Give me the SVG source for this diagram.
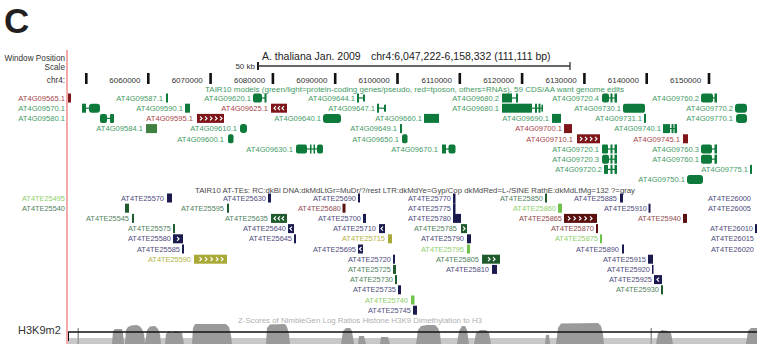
<svg xmlns="http://www.w3.org/2000/svg" width="757" height="344" viewBox="0 0 757 344">
<style>
text{font-family:"Liberation Sans",Arial,sans-serif}
.hd{font-size:8.2px;fill:#333;text-anchor:end}
.tk{font-size:8px;fill:#333;text-anchor:end}
.gl{font-size:7.6px;fill:#459b66;text-anchor:end}
.rl{font-size:7.6px;fill:#a7464b;text-anchor:end}
.g{fill:#0d7a3b}
.r{fill:#7e1518}
.p{fill:#3f7f40}
.ln{stroke:#0d7a3b;stroke-width:1.2}
.tl{font-size:7.4px;text-anchor:end}
.nvl{fill:#4e4c7c}.nv{fill:#1b1a4f}
.dgl{fill:#4f7f5c}.dg{fill:#1f5a2d}
.lgl{fill:#8fcf6c}.lg{fill:#6fc34b}
.oll{fill:#b4b446}.ol{fill:#a8a936}
.rdl{fill:#8f4c4c}.rd{fill:#5b1010}
.chev{fill:none;stroke:#fff;stroke-width:1.2}
.pk{fill:#9a9a9a}
</style>
<rect width="757" height="344" fill="#fff"/>
<text x="4" y="33" font-size="35" font-weight="bold" fill="#231f20">C</text>
<line x1="67" y1="50" x2="67" y2="344" stroke="#f6a9a9" stroke-width="2"/>
<g id="header">
<text class="hd" x="65" y="61">Window Position</text>
<text class="hd" x="65" y="69.5">Scale</text>
<text class="hd" x="65" y="83">chr4:</text>
<text x="262" y="60" font-size="10.5" fill="#222">A. thaliana Jan. 2009</text>
<text x="371" y="60" font-size="10.5" fill="#222">chr4:6,047,222-6,158,332 (111,111 bp)</text>
<text class="tk" x="255" y="69">50 kb</text>
<line x1="258" y1="66" x2="570" y2="66" stroke="#333" stroke-width="1.3"/>
<line x1="258" y1="62" x2="258" y2="70" stroke="#222" stroke-width="2"/>
<line x1="570" y1="62" x2="570" y2="70" stroke="#333" stroke-width="1.3"/>
</g>
<g id="ruler" fill="#111">
<rect x="85" y="73" width="2.6" height="11"/>
<rect x="147" y="73" width="2.6" height="11"/>
<rect x="209.3" y="73" width="2.6" height="11"/>
<rect x="271.6" y="73" width="2.6" height="11"/>
<rect x="333.9" y="73" width="2.6" height="11"/>
<rect x="396.2" y="73" width="2.6" height="11"/>
<rect x="458.5" y="73" width="2.6" height="11"/>
<rect x="520.8" y="73" width="2.6" height="11"/>
<rect x="583.1" y="73" width="2.6" height="11"/>
<rect x="645.4" y="73" width="2.6" height="11"/>
<rect x="707.7" y="73" width="2.6" height="11"/>
<text class="tk" x="140.5" y="82.5">6060000</text>
<text class="tk" x="202.8" y="82.5">6070000</text>
<text class="tk" x="265.1" y="82.5">6080000</text>
<text class="tk" x="327.4" y="82.5">6090000</text>
<text class="tk" x="389.7" y="82.5">6100000</text>
<text class="tk" x="452" y="82.5">6110000</text>
<text class="tk" x="514.3" y="82.5">6120000</text>
<text class="tk" x="576.6" y="82.5">6130000</text>
<text class="tk" x="638.9" y="82.5">6140000</text>
<text class="tk" x="701.2" y="82.5">6150000</text>
</g>
<text x="205" y="92" font-size="7.5" fill="#459b66" textLength="419" lengthAdjust="spacingAndGlyphs">TAIR10 models (green/light=protein-coding genes/pseudo, red=tposon, others=RNAs), 59 CDS/AA want genome edits</text>
<g id="genes">
<g id="AT4G09565.1"><text class="rl" x="65" y="100.7">AT4G09565.1</text><rect class="r" x="68" y="93.5" width="3" height="9"/></g>
<g id="AT4G09587.1"><text class="gl" x="163" y="100.7">AT4G09587.1</text><rect class="g" x="166" y="93.5" width="2" height="9"/></g>
<g id="AT4G09620.1"><text class="gl" x="251" y="100.7">AT4G09620.1</text><rect class="g" x="253" y="93.5" width="9" height="9" rx="2"/><line class="ln" x1="262" y1="98" x2="265.5" y2="98"/><rect class="g" x="264.5" y="93.5" width="2" height="9"/></g>
<g id="AT4G09644.1"><text class="gl" x="355" y="100.7">AT4G09644.1</text><rect class="g" x="357" y="93.5" width="2" height="9"/><line class="ln" x1="359" y1="98" x2="364" y2="98"/><rect class="g" x="363" y="94.5" width="2" height="7"/></g>
<g id="AT4G09680.2"><text class="gl" x="499" y="100.7">AT4G09680.2</text><rect class="g" x="502" y="93.5" width="10" height="9"/><line class="ln" x1="512" y1="98" x2="517" y2="98"/><rect class="g" x="516" y="93.5" width="2" height="9"/></g>
<g id="AT4G09720.4"><text class="gl" x="599" y="100.7">AT4G09720.4</text><rect class="g" x="602" y="93.5" width="7" height="9" rx="2"/><line class="ln" x1="609" y1="98" x2="617" y2="98"/><rect class="g" x="610.5" y="93.5" width="2" height="9"/><rect class="g" x="614.5" y="93.5" width="2.5" height="9"/></g>
<g id="AT4G09760.2"><text class="gl" x="699" y="100.7">AT4G09760.2</text><rect class="g" x="701" y="93.5" width="12" height="9" rx="2"/><line class="ln" x1="713" y1="98" x2="717" y2="98"/><rect class="g" x="714.5" y="93.5" width="2.5" height="9"/></g>

<g id="AT4G09570.1"><text class="gl" x="65" y="110.9">AT4G09570.1</text><rect class="g" x="82" y="103.7" width="4" height="9"/><line class="ln" x1="86" y1="108.2" x2="89" y2="108.2"/><rect class="g" x="89" y="103.7" width="11" height="9" rx="3"/></g>
<g id="AT4G09590.1"><text class="gl" x="183" y="110.9">AT4G09590.1</text><rect class="g" x="185" y="103.7" width="5" height="9"/></g>
<g id="AT4G09625.1"><text class="rl" x="268" y="110.9">AT4G09625.1</text><rect class="r" x="271" y="103.7" width="16" height="9"/><path class="chev" d="M276,106.2L274,108.2L276,110.2M280,106.2L278,108.2L280,110.2M284,106.2L282,108.2L284,110.2"/></g>
<g id="AT4G09647.1"><text class="gl" x="375" y="110.9">AT4G09647.1</text><rect class="g" x="377" y="103.7" width="2" height="9"/><line class="ln" x1="379" y1="108.2" x2="385" y2="108.2"/><rect class="g" x="384" y="104.7" width="2" height="7"/></g>
<g id="AT4G09680.1"><text class="gl" x="499" y="110.9">AT4G09680.1</text><rect class="g" x="502" y="103.7" width="30" height="9"/><line class="ln" x1="532" y1="108.2" x2="543" y2="108.2"/><rect class="g" x="535" y="103.7" width="2" height="9"/><rect class="g" x="538.5" y="103.7" width="2" height="9"/><rect class="g" x="541.5" y="104.7" width="1.5" height="7"/></g>
<g id="AT4G09730.1"><text class="gl" x="621" y="110.9">AT4G09730.1</text><rect class="g" x="623" y="103.7" width="22" height="9" rx="2"/></g>
<g id="AT4G09770.2"><text class="gl" x="733" y="110.9">AT4G09770.2</text><rect class="g" x="735" y="103.7" width="12" height="9" rx="3"/></g>

<g id="AT4G09580.1"><text class="gl" x="65" y="121.1">AT4G09580.1</text><rect class="g" x="100" y="113.9" width="7" height="9" rx="2"/><line class="ln" x1="107" y1="118.4" x2="111" y2="118.4"/><rect class="g" x="110" y="113.9" width="4" height="9" rx="1"/></g>
<g id="AT4G09595.1"><text class="rl" x="193" y="121.1">AT4G09595.1</text><rect class="r" x="197" y="113.9" width="27" height="9"/><path class="chev" d="M200,116.4L202,118.4L200,120.4M205,116.4L207,118.4L205,120.4M210,116.4L212,118.4L210,120.4M215,116.4L217,118.4L215,120.4M220,116.4L222,118.4L220,120.4"/></g>
<g id="AT4G09640.1"><text class="gl" x="321" y="121.1">AT4G09640.1</text><rect class="g" x="323" y="113.9" width="18" height="9" rx="3"/></g>
<g id="AT4G09660.1"><text class="gl" x="422" y="121.1">AT4G09660.1</text><rect class="g" x="424" y="113.9" width="15" height="9"/></g>
<g id="AT4G09690.1"><text class="gl" x="549" y="121.1">AT4G09690.1</text><rect class="g" x="552" y="113.9" width="9" height="9"/></g>
<g id="AT4G09731.1"><text class="gl" x="642" y="121.1">AT4G09731.1</text><rect class="g" x="644" y="113.9" width="2" height="9"/></g>
<g id="AT4G09770.1"><text class="gl" x="733" y="121.1">AT4G09770.1</text><rect class="g" x="736" y="113.9" width="11" height="9" rx="3"/></g>

<g id="AT4G09584.1"><text class="gl" x="143" y="131.3">AT4G09584.1</text><rect class="p" x="146" y="124.1" width="11" height="9"/></g>
<g id="AT4G09610.1"><text class="gl" x="237" y="131.3">AT4G09610.1</text><rect class="g" x="240" y="124.1" width="7" height="9" rx="3"/></g>
<g id="AT4G09649.1"><text class="gl" x="397" y="131.3">AT4G09649.1</text><rect class="g" x="400" y="124.1" width="2" height="9"/></g>
<g id="AT4G09700.1"><text class="rl" x="562" y="131.3">AT4G09700.1</text><rect class="r" x="564" y="124.1" width="8" height="9"/></g>
<g id="AT4G09740.1"><text class="gl" x="661" y="131.3">AT4G09740.1</text><rect class="g" x="663" y="124.1" width="7" height="9"/><line class="ln" x1="670" y1="128.6" x2="677" y2="128.6"/><rect class="g" x="671.5" y="124.1" width="2" height="9"/><rect class="g" x="674.5" y="124.1" width="2.5" height="9"/></g>

<g id="AT4G09600.1"><text class="gl" x="224" y="141.5">AT4G09600.1</text><rect class="g" x="228" y="134.3" width="5.5" height="9" rx="2"/></g>
<g id="AT4G09650.1"><text class="gl" x="399" y="141.5">AT4G09650.1</text><rect class="g" x="402" y="134.3" width="5.5" height="9" rx="2"/></g>
<g id="AT4G09710.1"><text class="rl" x="573" y="141.5">AT4G09710.1</text><rect class="r" x="577" y="134.3" width="23" height="9"/><path class="chev" d="M580,136.8L582,138.8L580,140.8M585,136.8L587,138.8L585,140.8M590,136.8L592,138.8L590,140.8M595,136.8L597,138.8L595,140.8"/></g>
<g id="AT4G09745.1"><text class="rl" x="680" y="141.5">AT4G09745.1</text><rect class="r" x="683" y="134.3" width="5" height="9"/></g>

<g id="AT4G09630.1"><text class="gl" x="293" y="151.7">AT4G09630.1</text><rect class="g" x="296" y="144.5" width="11" height="9" rx="2"/><line class="ln" x1="307" y1="149" x2="317" y2="149"/><rect class="g" x="310" y="144.5" width="1.5" height="9"/><rect class="g" x="313.5" y="144.5" width="1.5" height="9"/><rect class="g" x="317" y="144.5" width="6" height="9" rx="2"/></g>
<g id="AT4G09670.1"><text class="gl" x="438" y="151.7">AT4G09670.1</text><rect class="g" x="442" y="144.5" width="4" height="9"/><line class="ln" x1="446" y1="149" x2="449" y2="149"/><rect class="g" x="448.5" y="144.5" width="7" height="9" rx="2"/></g>
<g id="AT4G09720.1"><text class="gl" x="599" y="151.7">AT4G09720.1</text><rect class="g" x="602" y="144.5" width="6" height="9" rx="1"/><line class="ln" x1="608" y1="149" x2="617" y2="149"/><rect class="g" x="610.5" y="144.5" width="2" height="9"/><rect class="g" x="614.5" y="144.5" width="2.5" height="9"/></g>
<g id="AT4G09760.3"><text class="gl" x="699" y="151.7">AT4G09760.3</text><rect class="g" x="701" y="144.5" width="11" height="9" rx="2"/><line class="ln" x1="712" y1="149" x2="717" y2="149"/><rect class="g" x="714.5" y="144.5" width="2.5" height="9"/></g>

<g id="AT4G09720.3"><text class="gl" x="599" y="161.9">AT4G09720.3</text><rect class="g" x="602" y="154.7" width="7" height="9" rx="2"/><line class="ln" x1="609" y1="159.2" x2="617" y2="159.2"/><rect class="g" x="610.5" y="154.7" width="2" height="9"/><rect class="g" x="614.5" y="154.7" width="2.5" height="9"/></g>
<g id="AT4G09760.1"><text class="gl" x="699" y="161.9">AT4G09760.1</text><rect class="g" x="701" y="154.7" width="11" height="9" rx="2"/><line class="ln" x1="712" y1="159.2" x2="717" y2="159.2"/><rect class="g" x="714.5" y="154.7" width="2.5" height="9"/></g>

<g id="AT4G09720.2"><text class="gl" x="602" y="172.1">AT4G09720.2</text><rect class="g" x="604" y="164.9" width="4" height="9"/><line class="ln" x1="608" y1="169.4" x2="617" y2="169.4"/><rect class="g" x="610.5" y="164.9" width="2" height="9"/><rect class="g" x="614.5" y="164.9" width="2.5" height="9"/></g>
<g id="AT4G09775.1"><text class="gl" x="748" y="172.1">AT4G09775.1</text><rect class="g" x="750" y="164.9" width="2" height="9"/></g>

<g id="AT4G09750.1"><text class="gl" x="685" y="182.3">AT4G09750.1</text><rect class="g" x="687" y="175.1" width="16" height="9" rx="3"/></g>
</g>
<text x="195" y="193" font-size="7.8" fill="#4a4a4a" textLength="440" lengthAdjust="spacingAndGlyphs">TAIR10 AT-TEs: RC:dkBl DNA:dkMdLtGr=MuDr/?/rest LTR:dkMdYe=Gyp/Cop dkMdRed=L-/SINE RathE:dkMdLtMg=132 ?=gray</text>
<g id="tes">
<g id="AT4TE25495"><text class="tl lgl" x="65" y="200.6">AT4TE25495</text></g>
<g id="AT4TE25570"><text class="tl nvl" x="164" y="200.6">AT4TE25570</text><rect class="nv" x="167" y="193.5" width="5" height="9"/></g>
<g id="AT4TE25630"><text class="tl nvl" x="266" y="200.6">AT4TE25630</text><rect class="nv" x="268" y="193.5" width="3" height="9"/></g>
<g id="AT4TE25690"><text class="tl nvl" x="356" y="200.6">AT4TE25690</text><rect class="nv" x="358" y="193.5" width="2" height="9"/></g>
<g id="AT4TE25770"><text class="tl nvl" x="451" y="200.6">AT4TE25770</text><rect class="nv" x="453" y="193.5" width="2.5" height="10"/></g>
<g id="AT4TE25850"><text class="tl dgl" x="543" y="200.6">AT4TE25850</text><rect class="dg" x="545" y="193.5" width="2" height="9"/></g>
<g id="AT4TE25885"><text class="tl nvl" x="617" y="200.6">AT4TE25885</text><rect class="nv" x="620" y="193.5" width="3" height="9"/></g>
<g id="AT4TE26000"><text class="tl nvl" x="751" y="200.6">AT4TE26000</text></g>

<g id="AT4TE25540"><text class="tl dgl" x="65" y="210.8">AT4TE25540</text><rect class="dg" x="125" y="203.7" width="4" height="9"/></g>
<g id="AT4TE25595"><text class="tl dgl" x="224" y="210.8">AT4TE25595</text><rect class="dg" x="227" y="203.7" width="2" height="9"/></g>
<g id="AT4TE25680"><text class="tl rdl" x="341" y="210.8">AT4TE25680</text><rect class="rd" x="342.5" y="203.7" width="3" height="9"/></g>
<g id="AT4TE25775"><text class="tl nvl" x="451" y="210.8">AT4TE25775</text><rect class="nv" x="453" y="203.5" width="2.5" height="10.5"/></g>
<g id="AT4TE25860"><text class="tl lgl" x="556" y="210.8">AT4TE25860</text><rect class="lg" x="558" y="203.7" width="4" height="9"/></g>
<g id="AT4TE25910"><text class="tl nvl" x="647" y="210.8">AT4TE25910</text><rect class="nv" x="648.5" y="203.7" width="2" height="9"/></g>
<g id="AT4TE26005"><text class="tl nvl" x="751" y="210.8">AT4TE26005</text></g>

<g id="AT4TE25545"><text class="tl dgl" x="129" y="221">AT4TE25545</text><rect class="dg" x="132" y="213.9" width="2" height="9"/></g>
<g id="AT4TE25635"><text class="tl dgl" x="268" y="221">AT4TE25635</text><rect class="dg" x="271" y="213.9" width="16" height="9"/><path class="chev" d="M276,216.4L274,218.4L276,220.4M280,216.4L278,218.4L280,220.4M284,216.4L282,218.4L284,220.4"/></g>
<g id="AT4TE25700"><text class="tl nvl" x="361" y="221">AT4TE25700</text><rect class="nv" x="363" y="213.9" width="3" height="9"/></g>
<g id="AT4TE25780"><text class="tl nvl" x="451" y="221">AT4TE25780</text><rect class="nv" x="453" y="213.9" width="8" height="9"/></g>
<g id="AT4TE25865"><text class="tl rdl" x="562" y="221">AT4TE25865</text><rect class="rd" x="564" y="213.9" width="33" height="9"/><path class="chev" d="M568,216.4L570,218.4L568,220.4M573.5,216.4L575.5,218.4L573.5,220.4M579,216.4L581,218.4L579,220.4M584.5,216.4L586.5,218.4L584.5,220.4M590,216.4L592,218.4L590,220.4"/></g>
<g id="AT4TE25940"><text class="tl rdl" x="681" y="221">AT4TE25940</text><rect class="rd" x="683" y="213.9" width="4" height="9"/></g>

<g id="AT4TE25575"><text class="tl dgl" x="171" y="231.2">AT4TE25575</text><rect class="dg" x="173" y="224.1" width="2" height="9"/></g>
<g id="AT4TE25640"><text class="tl nvl" x="286" y="231.2">AT4TE25640</text><rect class="nv" x="288" y="224.1" width="6" height="9"/><path class="chev" d="M292,226.6L290,228.6L292,230.6"/></g>
<g id="AT4TE25710"><text class="tl nvl" x="376" y="231.2">AT4TE25710</text><rect class="nv" x="379" y="224.1" width="6" height="9"/><path class="chev" d="M383,226.6L381,228.6L383,230.6"/></g>
<g id="AT4TE25785"><text class="tl dgl" x="457" y="231.2">AT4TE25785</text><rect class="dg" x="461" y="224.1" width="6" height="9"/><path class="chev" d="M463,226.6L465,228.6L463,230.6"/></g>
<g id="AT4TE25870"><text class="tl rdl" x="594" y="231.2">AT4TE25870</text><rect class="rd" x="596" y="224.1" width="2" height="9"/></g>
<g id="AT4TE26010"><text class="tl nvl" x="753" y="231.2">AT4TE26010</text><rect class="nv" x="755" y="224.1" width="2" height="9"/></g>

<g id="AT4TE25580"><text class="tl nvl" x="171" y="241.4">AT4TE25580</text><rect class="nv" x="173" y="234.3" width="10" height="9"/><path class="chev" d="M177,236.8L179,238.8L177,240.8"/></g>
<g id="AT4TE25645"><text class="tl nvl" x="292" y="241.4">AT4TE25645</text><rect class="nv" x="294" y="234.3" width="2" height="9"/></g>
<g id="AT4TE25715"><text class="tl oll" x="385" y="241.4">AT4TE25715</text><rect class="ol" x="388" y="234.3" width="4" height="9"/></g>
<g id="AT4TE25790"><text class="tl nvl" x="464" y="241.4">AT4TE25790</text><rect class="nv" x="467" y="234.3" width="4" height="9"/></g>
<g id="AT4TE25875"><text class="tl lgl" x="598" y="241.4">AT4TE25875</text><rect class="lg" x="600" y="234.3" width="2" height="9"/></g>
<g id="AT4TE26015"><text class="tl nvl" x="754" y="241.4">AT4TE26015</text></g>

<g id="AT4TE25585"><text class="tl nvl" x="180" y="251.6">AT4TE25585</text><rect class="nv" x="182" y="244.5" width="2" height="9"/></g>
<g id="AT4TE25695"><text class="tl nvl" x="356" y="251.6">AT4TE25695</text><rect class="nv" x="358" y="244.5" width="5" height="9"/><path class="chev" d="M361.5,247L359.5,249L361.5,251"/></g>
<g id="AT4TE25795"><text class="tl lgl" x="464" y="251.6">AT4TE25795</text><rect class="lg" x="467" y="244.5" width="3" height="9"/></g>
<g id="AT4TE25890"><text class="tl nvl" x="619" y="251.6">AT4TE25890</text><rect class="nv" x="622" y="244.5" width="2" height="9"/></g>
<g id="AT4TE26020"><text class="tl nvl" x="754" y="251.6">AT4TE26020</text></g>

<g id="AT4TE25590"><text class="tl oll" x="191" y="261.8">AT4TE25590</text><rect class="ol" x="194" y="254.7" width="33" height="9"/><path class="chev" d="M199.5,257.2L201.5,259.2L199.5,261.2M205,257.2L207,259.2L205,261.2M210.5,257.2L212.5,259.2L210.5,261.2M216,257.2L218,259.2L216,261.2M221,257.2L223,259.2L221,261.2"/></g>
<g id="AT4TE25720"><text class="tl nvl" x="391" y="261.8">AT4TE25720</text><rect class="nv" x="393" y="254.7" width="2" height="9"/></g>
<g id="AT4TE25805"><text class="tl dgl" x="479" y="261.8">AT4TE25805</text><rect class="dg" x="482" y="254.7" width="18" height="9"/><path class="chev" d="M488,257.2L490,259.2L488,261.2M493,257.2L495,259.2L493,261.2"/></g>
<g id="AT4TE25915"><text class="tl nvl" x="646" y="261.8">AT4TE25915</text><rect class="nv" x="648" y="254.7" width="5" height="9"/></g>

<g id="AT4TE25725"><text class="tl dgl" x="391" y="272">AT4TE25725</text><rect class="dg" x="393" y="264.9" width="3" height="9"/></g>
<g id="AT4TE25810"><text class="tl nvl" x="489" y="272">AT4TE25810</text><rect class="nv" x="492" y="264.9" width="5" height="9"/></g>
<g id="AT4TE25920"><text class="tl nvl" x="650" y="272">AT4TE25920</text><rect class="nv" x="652" y="264.9" width="1.5" height="9"/></g>

<g id="AT4TE25730"><text class="tl dgl" x="393" y="282.2">AT4TE25730</text><rect class="dg" x="395" y="275.1" width="2" height="9"/></g>
<g id="AT4TE25925"><text class="tl nvl" x="652" y="282.2">AT4TE25925</text><rect class="nv" x="654" y="275.1" width="8" height="9"/><path class="chev" d="M659,277.6L657,279.6L659,281.6"/></g>

<g id="AT4TE25735"><text class="tl nvl" x="396" y="292.4">AT4TE25735</text><rect class="nv" x="398" y="285.3" width="3" height="9"/></g>
<g id="AT4TE25930"><text class="tl dgl" x="659" y="292.4">AT4TE25930</text><rect class="dg" x="661" y="285.3" width="2" height="9"/></g>

<g id="AT4TE25740"><text class="tl lgl" x="408" y="302.6">AT4TE25740</text><rect class="lg" x="411" y="295.5" width="3.5" height="9"/></g>

<g id="AT4TE25745"><text class="tl nvl" x="411" y="312.8">AT4TE25745</text><rect class="nv" x="413" y="305.7" width="4" height="9"/></g>
</g>
<g id="h3k9m2">
<text x="18" y="334" font-size="11" fill="#333">H3K9m2</text>
<text x="238" y="322.5" font-size="7.6" fill="#b0b0b0" textLength="244" lengthAdjust="spacingAndGlyphs">Z-Scores of NimbleGen Log Ratios Histone H3K9 Dimethylation to H3</text>
<rect x="68" y="338" width="689" height="6" fill="#c8c8c8"/>
<rect class="pk" x="77.5" y="328" width="1.5" height="16"/>
<path class="pk" d="M112,344L113,331L115,329L122,329L123,333L124,344Z"/>
<path class="pk" d="M125,344L126,330L128,327L131,325.5L137,325L140,326.5L142,329L144,334L145,344Z"/>
<path class="pk" d="M145,344L147,330L150,326.5L155,326L158,329L160,334L161,344Z"/>
<path class="pk" d="M165,344L166,334L169,331L172,333L175,331L179,332L182,333L184,344Z"/>
<path class="pk" d="M192,344L193,328L195,324L226,324L229,327L231,335L232,344Z"/>
<path class="pk" d="M266,344L267,328L270,324.5L285,324L287,327L289,334L290,344Z"/>
<path class="pk" d="M341,344L343,331L346,328L350,328L352,331L354,344Z"/>
<path class="pk" d="M358,344L359,336L364,336L366,344Z"/>
<path class="pk" d="M380,344L381,337L388,337L390,344Z"/>
<path class="pk" d="M416,344L418,330L421,326L427,325L435,325L438,328L440,333L441,344Z"/>
<path class="pk" d="M457,344L459,331L462,326L465,326L467,330L469,344Z"/>
<path class="pk" d="M474,344L476,333L480,330L486,330L489,333L491,344Z"/>
<path class="pk" d="M545,344L546,335L549,335L550,344Z"/>
<path class="pk" d="M556,344L558,328L561,323.5L598,323L601,326L603,334L604,344Z"/>
<rect class="pk" x="650.5" y="328" width="1.5" height="16"/>
<path class="pk" d="M656,344L658,333L662,330L668,331L671,333L673,344Z"/>
<path class="pk" d="M746,344L748,331L751,328L757,328L757,344Z"/>
<line x1="68" y1="332" x2="757" y2="332" stroke="#111" stroke-width="1.3"/>
<line x1="68.5" y1="332" x2="68.5" y2="341" stroke="#111" stroke-width="1"/>
</g>
</svg>
